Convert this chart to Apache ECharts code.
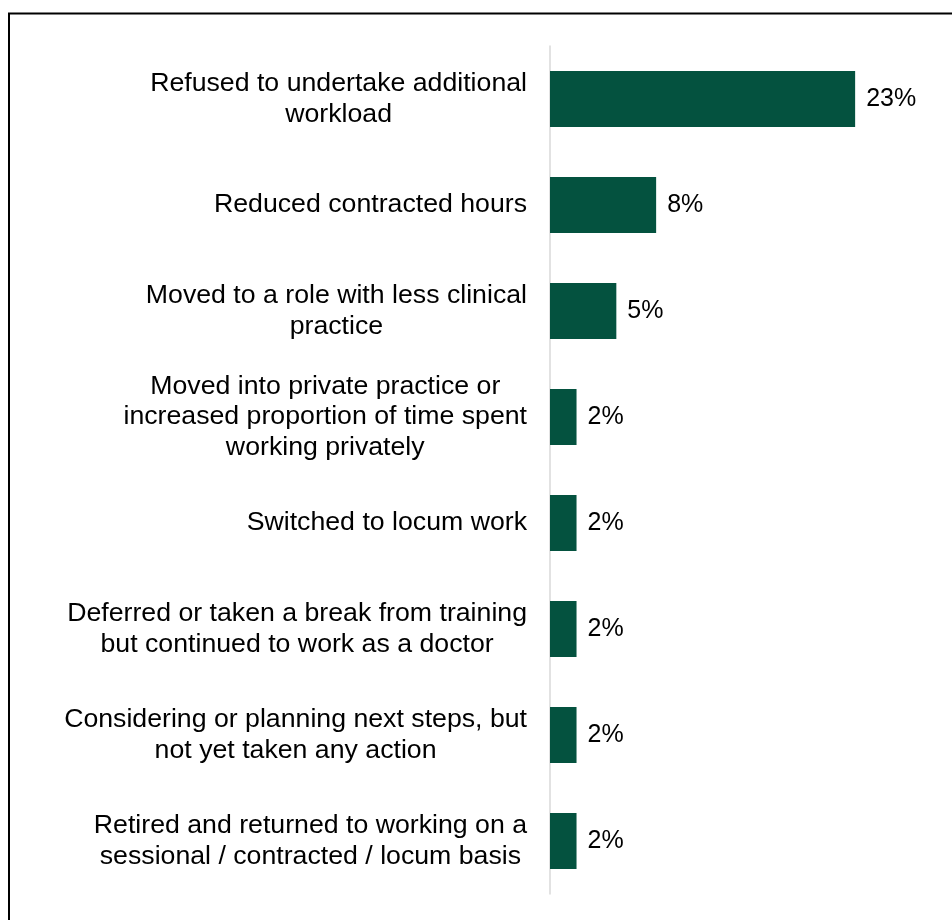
<!DOCTYPE html>
<html>
<head>
<meta charset="utf-8">
<script src="https://cdn.jsdelivr.net/npm/echarts@6/dist/echarts.min.js"></script>
<style>
  html, body { margin: 0; padding: 0; background: #ffffff; }
  #chart { width: 952px; height: 920px; }
</style>
</head>
<body>
<div id="chart"></div>
<script>
// Actions taken, share of respondents (%)
const categories = [
  'Refused to undertake additional\nworkload',
  'Reduced contracted hours',
  'Moved to a role with less clinical\npractice',
  'Moved into private practice or\nincreased proportion of time spent\nworking privately',
  'Switched to locum work',
  'Deferred or taken a break from training\nbut continued to work as a doctor',
  'Considering or planning next steps, but\nnot yet taken any action',
  'Retired and returned to working on a\nsessional / contracted / locum basis'
];
const values = [23, 8, 5, 2, 2, 2, 2, 2];

const FONT = '"Liberation Sans", Arial, sans-serif';
const chart = echarts.init(document.getElementById('chart'), null, { renderer: 'canvas' });

chart.setOption({
  backgroundColor: '#ffffff',
  animation: false,
  graphic: [{
    type: 'rect',
    shape: { x: 9, y: 13.5, width: 1000, height: 1000 },
    style: { fill: 'none', stroke: '#000000', lineWidth: 2 },
    silent: true
  }],
  grid: { left: 550, right: 4, top: 46, bottom: 26, containLabel: false },
  xAxis: {
    type: 'value',
    min: 0,
    max: 30,
    show: false,
    splitLine: { show: false }
  },
  yAxis: {
    type: 'category',
    data: categories,
    inverse: true,
    axisLine: { show: true, lineStyle: { color: '#d9d9d9', width: 1.5 } },
    axisTick: { show: false },
    axisLabel: {
      margin: 23,
      align: 'right',
      fontFamily: FONT,
      fontSize: 26.7,
      color: '#000000',
      formatter: function (v) {
        return v.split('\n').map(function (s) { return '{c|' + s + '}'; }).join('\n');
      },
      rich: {
        c: { align: 'center', fontFamily: FONT, fontSize: 26.7, lineHeight: 30.5, color: '#000000' }
      }
    }
  },
  series: [{
    type: 'bar',
    data: values,
    barWidth: 56,
    itemStyle: { color: '#04523f' },
    label: {
      show: true,
      position: 'right',
      distance: 11,
      formatter: '{c}%',
      fontFamily: FONT,
      fontSize: 25,
      color: '#000000'
    }
  }]
});
</script>
</body>
</html>
